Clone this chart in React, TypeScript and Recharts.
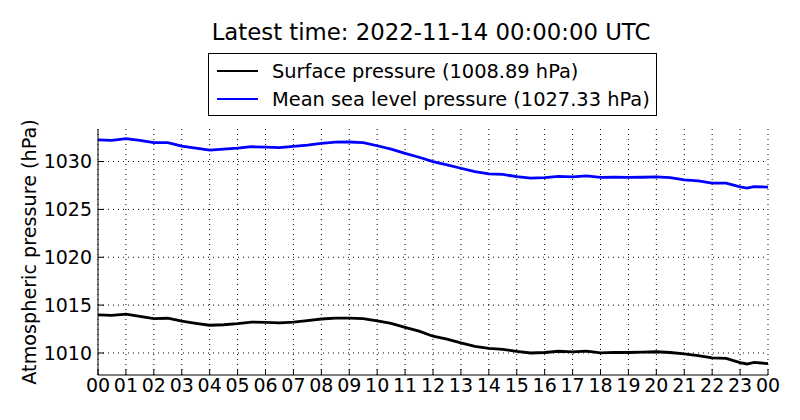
import React from "react";
import {
  LineChart, Line, XAxis, YAxis, CartesianGrid, Legend,
} from "recharts";

// hours since 2022-11-13 00:00 UTC
const HOURS = [
  0, 0.5, 1, 1.5, 2, 2.5, 3, 3.5, 4, 4.5, 5, 5.5, 6, 6.5, 7, 7.5, 8, 8.5,
  9, 9.5, 10, 10.5, 11, 11.5, 12, 12.5, 13, 13.5, 14, 14.5, 15, 15.5, 16,
  16.5, 17, 17.5, 18, 18.5, 19, 19.5, 20, 20.5, 21, 21.5, 22, 22.5, 23,
  23.25, 23.5, 24,
];

const SURFACE = [
  1013.98, 1013.92, 1014.05, 1013.82, 1013.60, 1013.63, 1013.33, 1013.10,
  1012.90, 1012.95, 1013.06, 1013.22, 1013.20, 1013.15, 1013.22, 1013.37,
  1013.55, 1013.65, 1013.64, 1013.60, 1013.35, 1013.10, 1012.68, 1012.28,
  1011.75, 1011.45, 1011.05, 1010.70, 1010.48, 1010.38, 1010.17, 1010.00,
  1010.05, 1010.18, 1010.12, 1010.20, 1010.02, 1010.06, 1010.05, 1010.08,
  1010.13, 1010.05, 1009.90, 1009.73, 1009.48, 1009.44, 1009.00, 1008.85,
  1009.02, 1008.89,
];

const MSL = [
  1032.27, 1032.22, 1032.40, 1032.20, 1031.98, 1031.98, 1031.62, 1031.40,
  1031.20, 1031.30, 1031.40, 1031.55, 1031.50, 1031.45, 1031.58, 1031.72,
  1031.90, 1032.02, 1032.04, 1031.98, 1031.65, 1031.30, 1030.85, 1030.45,
  1030.00, 1029.65, 1029.30, 1028.95, 1028.72, 1028.65, 1028.43, 1028.26,
  1028.32, 1028.45, 1028.40, 1028.50, 1028.34, 1028.37, 1028.34, 1028.36,
  1028.40, 1028.32, 1028.09, 1027.97, 1027.74, 1027.74, 1027.35, 1027.22,
  1027.38, 1027.33,
];

const HOUR_TICKS = [
  0, 1, 2, 3, 4, 5, 6, 7, 8, 9, 10, 11, 12, 13, 14, 15, 16, 17, 18, 19, 20,
  21, 22, 23, 24,
];
const PRESSURE_TICKS = [1010, 1015, 1020, 1025, 1030];
const Y_DOMAIN = [1007.7, 1033.4];
const SERIES_ORDER = ["surface", "msl"];

const TITLE = "Latest time: 2022-11-14 00:00:00 UTC";
const FONT = "'DejaVu Sans', sans-serif";

const data = HOURS.map((h, i) => ({ h, surface: SURFACE[i], msl: MSL[i] }));
const lastSurface = SURFACE[SURFACE.length - 1];
const lastMsl = MSL[MSL.length - 1];

const fmtHour = (h: number) => String(h % 24).padStart(2, "0");

const LegendBox = ({ payload }: any) => {
  const items = [...(payload || [])].sort(
    (a: any, b: any) => SERIES_ORDER.indexOf(a.dataKey) - SERIES_ORDER.indexOf(b.dataKey)
  );
  return (
    <div style={{
      border: "1px solid #000", background: "#fff", width: 449, height: 63,
      boxSizing: "border-box", paddingTop: 3, fontFamily: FONT, fontSize: 19.4,
    }}>
      {items.map((p: any) => (
        <div key={p.value} style={{ display: "flex", alignItems: "center", height: 28 }}>
          <span style={{
            display: "inline-block", width: 41, height: 2.5, background: p.color,
            marginLeft: 8, marginRight: 14,
          }} />
          <span style={{ color: "#000" }}>{p.value}</span>
        </div>
      ))}
    </div>
  );
};

export default function App() {
  return (
    <div style={{
      position: "absolute", left: 0, top: 0, width: 800, height: 420,
      background: "#fff", fontFamily: FONT,
    }}>
      <div style={{
        position: "absolute", left: 431, top: 19, transform: "translateX(-50%)",
        fontSize: 22.8, whiteSpace: "nowrap", color: "#000",
      }}>
        {TITLE}
      </div>
      <div style={{
        position: "absolute", left: 29, top: 252,
        transform: "translate(-50%, -50%) rotate(-90deg)",
        fontSize: 19.2, whiteSpace: "nowrap", color: "#000",
      }}>
        Atmospheric pressure (hPa)
      </div>

      <LineChart
        width={800}
        height={420}
        data={data}
        margin={{ top: 129, right: 32, bottom: 15, left: 38 }}
      >
        <CartesianGrid
          stroke="#000"
          strokeDasharray="1 4"
          horizontalValues={PRESSURE_TICKS}
          verticalValues={HOUR_TICKS}
        />
        <XAxis
          dataKey="h"
          type="number"
          domain={[0, 24]}
          ticks={HOUR_TICKS}
          interval={0}
          tickFormatter={fmtHour}
          height={30}
          tickSize={-6}
          tickMargin={10}
          stroke="#000"
          tick={{ fill: "#000", fontSize: 19, fontFamily: FONT }}
        />
        <XAxis
          xAxisId="top"
          orientation="top"
          type="number"
          domain={[0, 24]}
          ticks={HOUR_TICKS}
          interval={0}
          height={0}
          tickSize={-6}
          tick={false}
          stroke="#000"
        />
        <YAxis
          type="number"
          domain={Y_DOMAIN}
          ticks={PRESSURE_TICKS}
          interval={0}
          allowDataOverflow
          width={60}
          tickSize={-6}
          tickMargin={12}
          stroke="#000"
          tick={{ fill: "#000", fontSize: 19, fontFamily: FONT }}
        />
        <YAxis
          yAxisId="right"
          orientation="right"
          type="number"
          domain={Y_DOMAIN}
          ticks={PRESSURE_TICKS}
          interval={0}
          allowDataOverflow
          width={0}
          tickSize={-6}
          tick={false}
          stroke="#000"
        />
        <Legend
          layout="horizontal"
          verticalAlign="middle"
          align="center"
          content={<LegendBox />}
          wrapperStyle={{ top: 53, left: 208, width: 449 }}
        />
        <Line
          type="linear"
          dataKey="surface"
          name={`Surface pressure (${lastSurface.toFixed(2)} hPa)`}
          stroke="#000000"
          strokeWidth={2.8}
          dot={false}
          isAnimationActive={false}
        />
        <Line
          type="linear"
          dataKey="msl"
          name={`Mean sea level pressure (${lastMsl.toFixed(2)} hPa)`}
          stroke="#0000ff"
          strokeWidth={2.8}
          dot={false}
          isAnimationActive={false}
        />
      </LineChart>
    </div>
  );
}
